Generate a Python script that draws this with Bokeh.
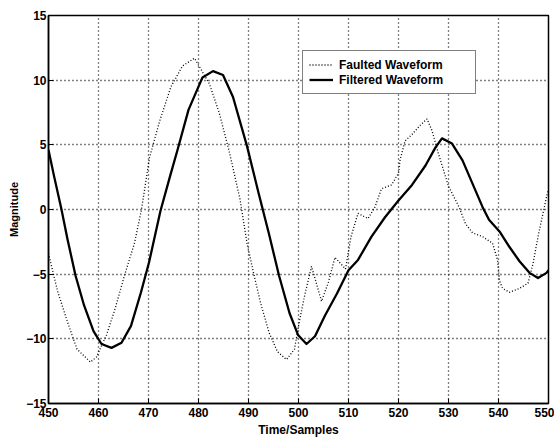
from bokeh.plotting import figure
from bokeh.models import Range1d, FixedTicker, Legend, LegendItem
from bokeh.embed import file_html
from bokeh.resources import INLINE

# ---- data ----
faulted_x = [450, 451.8, 453.8, 455.7, 458.4, 459.6, 461.6, 463.3, 465.2, 467.2,
             468.6, 470.2, 472.2, 474.5, 476.8, 479.2, 482.2, 484.2, 486.2, 488.3,
             489.7, 491, 492.4, 494.1, 495.8, 497.6, 499.2, 499.9, 501.2, 502.6,
             503.5, 504.6, 506, 507.3, 509.4, 510.5, 511.9, 513.9, 515.3, 516.6,
             518.6, 520, 520.3, 521.3, 522.7, 524.3, 525.7, 526.7, 528, 530,
             532.1, 533.4, 534.8, 536.8, 538.8, 539.8, 540.2, 540.8, 542.2, 544.2,
             545.9, 546.9, 547.9, 548.9, 549.9]
faulted_y = [-3.4, -6.3, -8.7, -10.8, -11.8, -11.4, -9.7, -7.7, -5.1, -2.6,
             0.0, 4.0, 6.8, 9.5, 11.1, 11.7, 9.7, 7.4, 4.4, 0.8,
             -2.6, -4.9, -7.2, -9.5, -11.0, -11.6, -10.8, -9.2, -6.7, -4.4,
             -5.6, -7.1, -5.6, -3.7, -4.6, -2.1, -0.3, -0.7, 0.2, 1.6,
             1.9, 2.8, 3.8, 5.3, 5.8, 6.5, 7.0, 6.1, 4.3, 1.8,
             0.2, -1.1, -1.8, -2.1, -2.6, -3.9, -5.5, -6.1, -6.4, -6.1,
             -5.7, -4.2, -2.1, -0.3, 1.5]

filtered_x = [450, 451.1, 452.6, 453.8, 455.4, 457.1, 459.0, 460.6, 462.6, 464.6,
              466.5, 468.5, 470.1, 472.4, 474.4, 475.8, 478, 480, 480.8, 482.9,
              484.9, 486.9, 489.7, 492, 494.1, 496.1, 498.2, 499.9, 501.6, 503.3,
              505.3, 507.7, 510, 511.9, 514.6, 517.3, 520, 522.7, 525.4, 527.4,
              528.7, 530.7, 532.8, 534.8, 536.8, 538.1, 540.2, 542.2, 544.2, 546.2,
              547.9, 549.6, 550]
filtered_y = [4.6, 2.6, 0.0, -2.3, -5.1, -7.4, -9.4, -10.4, -10.7, -10.3,
              -9.0, -6.4, -4.1, -0.1, 2.7, 4.6, 7.7, 9.5, 10.2, 10.7,
              10.4, 8.7, 4.9, 1.3, -1.9, -5.1, -8.0, -9.7, -10.4, -9.8,
              -8.2, -6.5, -4.7, -3.9, -2.1, -0.6, 0.7, 1.9, 3.4, 4.8,
              5.5, 5.1, 3.8, 2.0, 0.2, -0.8, -1.7, -2.9, -4.0, -4.9,
              -5.3, -4.9, -4.7]

x_ticks = [450, 460, 470, 480, 490, 500, 510, 520, 530, 540, 550]
y_ticks = [-15, -10, -5, 0, 5, 10, 15]
series_names = ["Faulted Waveform", "Filtered Waveform"]
x_label = "Time/Samples"
y_label = "Magnitude"

FONT = "Liberation Sans"

p = figure(width=554, height=441, x_range=Range1d(450, 550), y_range=Range1d(-15, 15),
           output_backend="svg", toolbar_location=None,
           min_border_left=48, min_border_right=6, min_border_top=15, min_border_bottom=38)
p.background_fill_color = "white"
p.border_fill_color = "white"
p.outline_line_color = "black"
p.outline_line_width = 1.5

for ax, ticks in ((p.xaxis[0], x_ticks), (p.yaxis[0], y_ticks)):
    ax.ticker = FixedTicker(ticks=ticks)
    ax.axis_line_color = "black"
    ax.axis_line_width = 1.5
    ax.major_tick_in = 5
    ax.major_tick_out = 0
    ax.major_tick_line_color = "black"
    ax.minor_tick_line_color = None
    ax.major_label_text_font = FONT
    ax.major_label_text_font_style = "bold"
    ax.major_label_text_font_size = "12px"
    ax.major_label_text_color = "black"
    ax.axis_label_text_font = FONT
    ax.axis_label_text_font_style = "bold"
    ax.axis_label_text_color = "black"

p.xaxis.axis_label = x_label
p.xaxis.axis_label_text_font_size = "12px"
p.xaxis.major_label_standoff = 4
p.xaxis.axis_label_standoff = 3
p.yaxis.axis_label = y_label
p.yaxis.axis_label_text_font_size = "11px"
p.yaxis.major_label_standoff = 2
p.yaxis.axis_label_standoff = 3

for g in (p.xgrid[0], p.ygrid[0]):
    g.grid_line_color = "black"
    g.grid_line_dash = "1 3"
    g.grid_line_width = 1.3
    g.grid_line_alpha = 1.0

r1 = p.line(faulted_x, faulted_y, line_color="black", line_width=1.3, line_dash="1 2")
r2 = p.line(filtered_x, filtered_y, line_color="black", line_width=2.3, line_join="round")

legend = Legend(items=[LegendItem(label=series_names[0], renderers=[r1]),
                       LegendItem(label=series_names[1], renderers=[r2])],
                location=(254, 309), orientation="vertical")
legend.border_line_color = "black"
legend.border_line_width = 1.5
legend.background_fill_color = "white"
legend.background_fill_alpha = 1
legend.label_text_font = FONT
legend.label_text_font_style = "bold"
legend.label_text_font_size = "12px"
legend.label_text_color = "black"
legend.padding = 6
legend.margin = 0
legend.spacing = 0
legend.glyph_width = 24
legend.glyph_height = 15
legend.label_height = 15
legend.label_width = 130
legend.label_standoff = 6
p.add_layout(legend, "center")

open("out.html", "w").write(file_html(p, INLINE))
